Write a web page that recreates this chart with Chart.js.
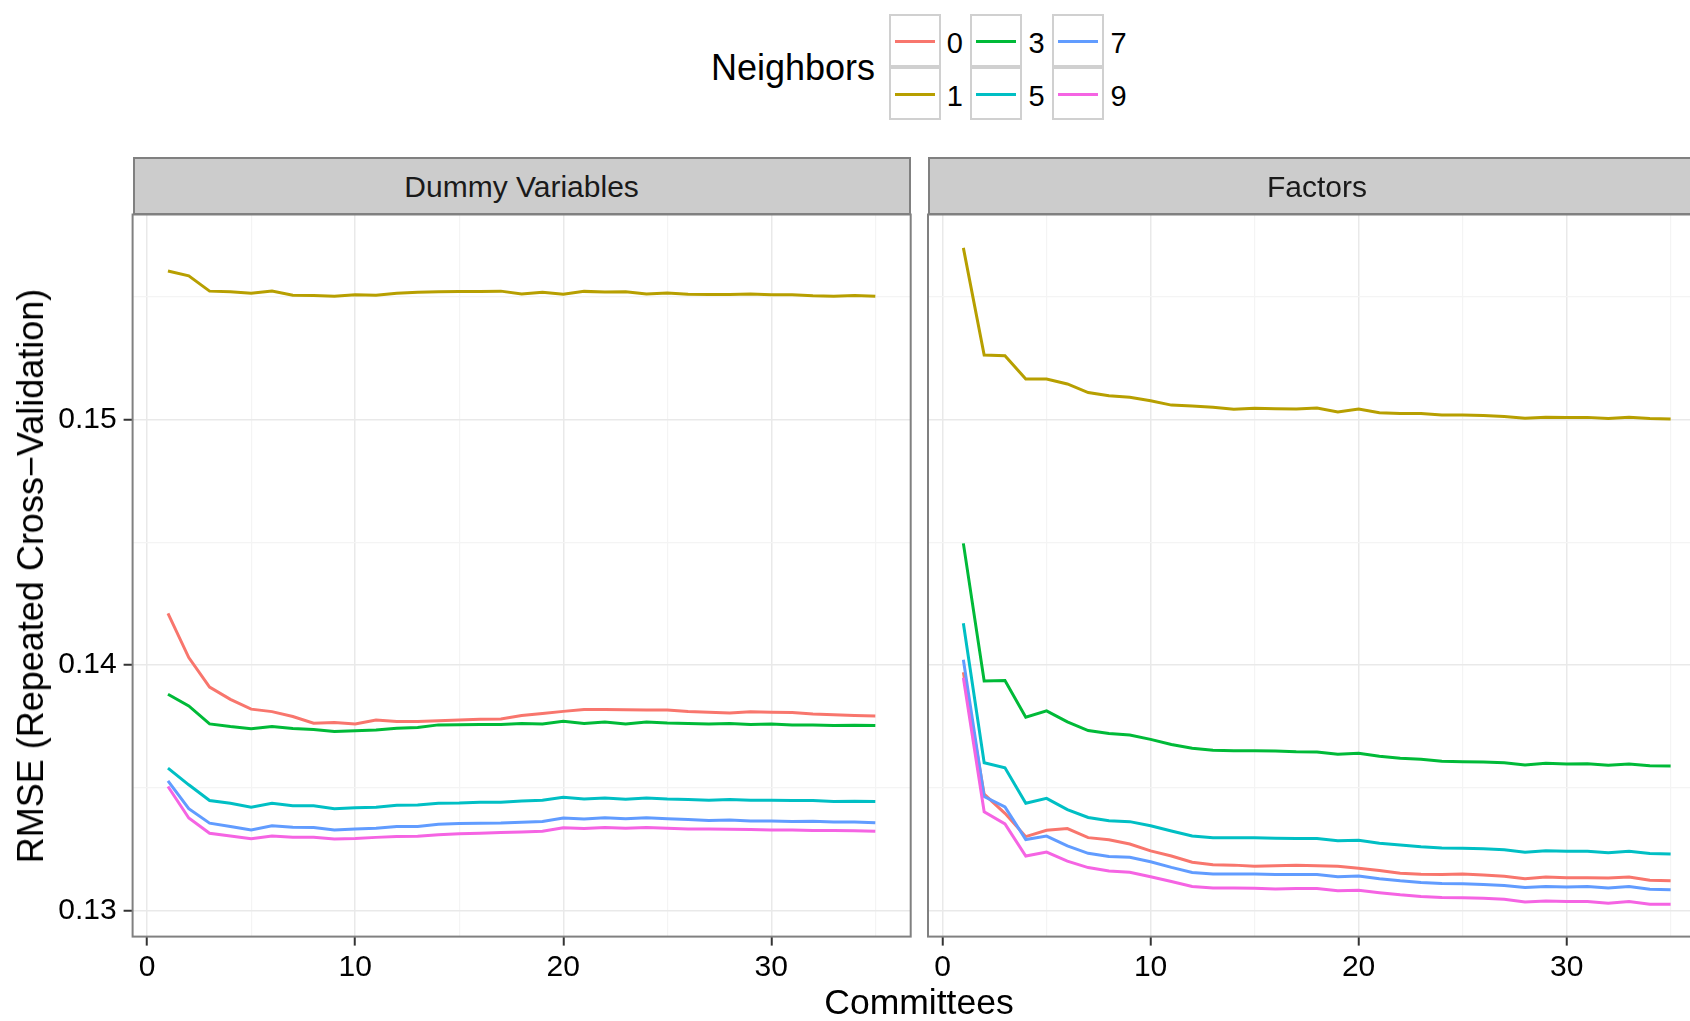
<!DOCTYPE html>
<html>
<head>
<meta charset="utf-8">
<script src="https://cdn.jsdelivr.net/npm/chart.js@4"></script>
<style>
  body { margin: 0; width: 1690px; height: 1021px; overflow: hidden; position: relative; background: #fff;
         font-family: "Liberation Sans", Arial, sans-serif; color: #000; }
  canvas { position: absolute; }
  .txt { position: absolute; white-space: nowrap; line-height: 1; }
  .strip { position: absolute; box-sizing: border-box; background: #cccccc; border: 2px solid #808080; }
  .key { position: absolute; box-sizing: border-box; width: 52px; height: 53px; border: 2px solid #d0d0d0; background: #fff; }
  .key span { position: absolute; left: 4px; right: 4px; top: 24px; height: 3px; }
</style>
</head>
<body>
<canvas id="left" width="920" height="821" style="left:0;top:200px"></canvas>
<canvas id="right" width="800" height="821" style="left:920px;top:200px"></canvas>

<div class="strip" style="left:132.6px;top:157.4px;width:778.1px;height:58px"></div>
<div class="strip" style="left:928px;top:157.4px;width:778px;height:58px"></div>
<div class="txt" style="left:521.6px;top:186.5px;font-size:30px;color:#1a1a1a;transform:translate(-50%,-50%)">Dummy Variables</div>
<div class="txt" style="left:1317px;top:186.5px;font-size:30px;color:#1a1a1a;transform:translate(-50%,-50%)">Factors</div>

<div class="txt" style="left:919px;top:1003px;font-size:35.5px;transform:translate(-50%,-50%)">Committees</div>
<div class="txt" style="left:30.6px;top:575.5px;font-size:36px;transform:translate(-50%,-50%) rotate(-90deg)">RMSE (Repeated Cross−Validation)</div>
<div class="txt" style="left:711px;top:67.5px;font-size:36px;transform:translateY(-50%)">Neighbors</div>
<div id="legend"></div>

<script>
// x values (number of committees) and neighbor groups
const committees = [1, 2, 3, 4, 5, 6, 7, 8, 9, 10, 11, 12, 13, 14, 15, 16, 17, 18, 19, 20,
  21, 22, 23, 24, 25, 26, 27, 28, 29, 30, 31, 32, 33, 34, 35];
const neighbors = ['0', '1', '3', '5', '7', '9'];
const colors = ['#F8766D', '#B79F00', '#00BA38', '#00BFC4', '#619CFF', '#F564E3'];
const xTicks = [0, 5, 10, 15, 20, 25, 30, 35];
const yTicks = [0.13, 0.135, 0.14, 0.145, 0.15, 0.155];

// Dummy Variables panel
const dummy0 = [0.1421, 0.1403, 0.1391, 0.1386, 0.1382, 0.1381, 0.1379, 0.13763, 0.13766, 0.1376,
  0.13776, 0.1377, 0.1377, 0.13773, 0.13776, 0.13779, 0.1378, 0.13794, 0.13802, 0.13811,
  0.13819, 0.13819, 0.13818, 0.13817, 0.13817, 0.1381, 0.13807, 0.13804, 0.13809, 0.13807,
  0.13806, 0.138, 0.13797, 0.13794, 0.13792];
const dummy1 = [0.15604, 0.15584, 0.15522, 0.15519, 0.15513, 0.15522, 0.15505, 0.15504, 0.15501, 0.15507,
  0.15505, 0.15513, 0.15517, 0.15519, 0.15521, 0.15521, 0.15522, 0.1551, 0.15517, 0.15509,
  0.15521, 0.15518, 0.15519, 0.1551, 0.15514, 0.15509, 0.15508, 0.15508, 0.1551, 0.15507,
  0.15507, 0.15503, 0.15501, 0.15504, 0.15501];
const dummy3 = [0.13881, 0.13833, 0.1376, 0.13749, 0.1374, 0.13749, 0.13741, 0.13737, 0.13729, 0.13732,
  0.13735, 0.13742, 0.13745, 0.13756, 0.13757, 0.13758, 0.13758, 0.13762, 0.1376, 0.13771,
  0.13762, 0.13768, 0.1376, 0.13768, 0.13764, 0.13762, 0.1376, 0.13762, 0.13758, 0.1376,
  0.13756, 0.13756, 0.13753, 0.13754, 0.13753];
const dummy5 = [0.1358, 0.13512, 0.13448, 0.13437, 0.13421, 0.13437, 0.13427, 0.13427, 0.13415, 0.13419,
  0.13421, 0.13429, 0.1343, 0.13437, 0.13438, 0.13441, 0.13441, 0.13446, 0.13449, 0.13461,
  0.13454, 0.13458, 0.13453, 0.13458, 0.13454, 0.13452, 0.13449, 0.13452, 0.13449, 0.13449,
  0.13448, 0.13448, 0.13444, 0.13445, 0.13444];
const dummy7 = [0.13528, 0.13415, 0.13356, 0.13342, 0.13328, 0.13345, 0.13339, 0.13338, 0.13328, 0.13332,
  0.13335, 0.13342, 0.13342, 0.13351, 0.13354, 0.13356, 0.13357, 0.1336, 0.13363, 0.13377,
  0.13373, 0.13378, 0.13374, 0.13378, 0.13374, 0.13371, 0.13367, 0.13369, 0.13365, 0.13365,
  0.13363, 0.13364, 0.13361, 0.13361, 0.13358];
const dummy9 = [0.13505, 0.13377, 0.13315, 0.13304, 0.13292, 0.13304, 0.13299, 0.13298, 0.13291, 0.13293,
  0.13298, 0.13302, 0.13303, 0.13309, 0.13313, 0.13315, 0.13318, 0.1332, 0.13323, 0.13337,
  0.13334, 0.13338, 0.13335, 0.13338, 0.13335, 0.13332, 0.13332, 0.13331, 0.1333, 0.13328,
  0.13328, 0.13326, 0.13326, 0.13325, 0.13323];

// Factors panel
const factor0 = [0.1397, 0.13474, 0.13396, 0.13301, 0.13327, 0.13334, 0.13297, 0.13288, 0.13271, 0.13243,
  0.13222, 0.13197, 0.13187, 0.13185, 0.1318, 0.13182, 0.13185, 0.13182, 0.1318, 0.13172,
  0.13163, 0.13152, 0.13148, 0.13147, 0.13149, 0.13145, 0.1314, 0.1313, 0.13137, 0.13134,
  0.13134, 0.13133, 0.13137, 0.13123, 0.13121];
const factor1 = [0.15698, 0.15262, 0.15259, 0.15164, 0.15164, 0.15144, 0.15109, 0.15096, 0.1509, 0.15076,
  0.15058, 0.15054, 0.15049, 0.15041, 0.15045, 0.15043, 0.15042, 0.15046, 0.1503, 0.15042,
  0.15027, 0.15024, 0.15024, 0.15018, 0.15018, 0.15016, 0.15012, 0.15004, 0.15009, 0.15008,
  0.15008, 0.15003, 0.15008, 0.15003, 0.15001];
const factor3 = [0.14495, 0.13935, 0.13937, 0.13787, 0.13813, 0.13768, 0.13733, 0.13721, 0.13715, 0.13697,
  0.13676, 0.13661, 0.13653, 0.13651, 0.13651, 0.1365, 0.13647, 0.13646, 0.13636, 0.1364,
  0.13628, 0.1362, 0.13616, 0.13608, 0.13606, 0.13605, 0.13602, 0.13593, 0.136, 0.13597,
  0.13598, 0.13592, 0.13597, 0.1359, 0.13589];
const factor5 = [0.1417, 0.13602, 0.13581, 0.13437, 0.13457, 0.13411, 0.13379, 0.13366, 0.13362, 0.13345,
  0.13324, 0.13304, 0.13296, 0.13296, 0.13296, 0.13294, 0.13293, 0.13293, 0.13284, 0.13286,
  0.13274, 0.13267, 0.1326, 0.13255, 0.13254, 0.13252, 0.13248, 0.13237, 0.13244, 0.13241,
  0.13241, 0.13235, 0.13241, 0.13232, 0.1323];
const factor7 = [0.14021, 0.13464, 0.13422, 0.13289, 0.13303, 0.13263, 0.13233, 0.1322, 0.13217, 0.13199,
  0.13176, 0.13155, 0.13149, 0.13149, 0.13149, 0.13147, 0.13147, 0.13147, 0.13138, 0.13141,
  0.1313, 0.13121, 0.13114, 0.1311, 0.13109, 0.13106, 0.13102, 0.13094, 0.13098, 0.13096,
  0.13098, 0.13092, 0.13098, 0.13087, 0.13085];
const factor9 = [0.13948, 0.13402, 0.13353, 0.13222, 0.13238, 0.13201, 0.13175, 0.13161, 0.13156, 0.13138,
  0.13118, 0.13098, 0.13092, 0.13092, 0.13091, 0.13088, 0.1309, 0.1309, 0.13081, 0.13083,
  0.13073, 0.13064, 0.13057, 0.13053, 0.13052, 0.1305, 0.13046, 0.13035, 0.13039, 0.13037,
  0.13037, 0.1303, 0.13037, 0.13026, 0.13026];

const dummySeries = [dummy0, dummy1, dummy3, dummy5, dummy7, dummy9];
const factorSeries = [factor0, factor1, factor3, factor5, factor7, factor9];

const isMajor = (v, step) => Math.abs(v / step - Math.round(v / step)) < 1e-6;

const panelBorder = {
  id: 'panelBorder',
  afterDraw(chart) {
    const { ctx, chartArea: a } = chart;
    ctx.save();
    ctx.strokeStyle = '#808080';
    ctx.lineWidth = 2;
    ctx.strokeRect(a.left, a.top, a.right - a.left, a.bottom - a.top);
    ctx.restore();
  }
};

function makePanel(id, series, withYLabels, padRight, yWidth) {
  const datasets = series.map((arr, k) => ({
    label: neighbors[k],
    data: committees.map((c, i) => ({ x: c, y: arr[i] })),
    borderColor: colors[k],
    backgroundColor: colors[k],
    borderWidth: 3,
    pointRadius: 0,
    tension: 0,
    order: series.length - k
  }));

  return new Chart(document.getElementById(id), {
    type: 'line',
    data: { datasets },
    plugins: [panelBorder],
    options: {
      responsive: false,
      animation: false,
      layout: { padding: { top: 14.5, right: padRight, left: 0, bottom: 0 } },
      plugins: { legend: { display: false }, tooltip: { enabled: false } },
      scales: {
        x: {
          type: 'linear',
          min: -0.7,
          max: 36.7,
          afterBuildTicks: s => { s.ticks = xTicks.map(v => ({ value: v })); },
          afterFit: s => { s.height = 84.4; s.paddingLeft = 0; s.paddingRight = 0; },
          border: { display: false },
          grid: {
            color: c => isMajor(c.tick.value, 10) ? '#e9e9e9' : '#f4f4f4',
            lineWidth: c => isMajor(c.tick.value, 10) ? 1.5 : 1.2,
            tickColor: c => isMajor(c.tick.value, 10) ? '#333333' : 'rgba(0,0,0,0)',
            tickWidth: 2,
            tickLength: 9
          },
          ticks: {
            autoSkip: false,
            maxRotation: 0,
            padding: 4,
            color: '#000',
            font: { family: '"Liberation Sans", Arial, sans-serif', size: 30 },
            callback: v => isMajor(v, 10) ? String(v) : ''
          }
        },
        y: {
          type: 'linear',
          min: 0.12894,
          max: 0.15834,
          afterBuildTicks: s => { s.ticks = yTicks.map(v => ({ value: v })); },
          afterFit: s => { s.width = yWidth; s.paddingTop = 0; s.paddingBottom = 0; },
          border: { display: false },
          grid: {
            color: c => isMajor(c.tick.value, 0.01) ? '#e9e9e9' : '#f4f4f4',
            lineWidth: c => isMajor(c.tick.value, 0.01) ? 1.5 : 1.2,
            tickColor: c => isMajor(c.tick.value, 0.01) ? '#333333' : 'rgba(0,0,0,0)',
            tickWidth: 2,
            tickLength: 9,
            drawTicks: withYLabels
          },
          ticks: {
            display: withYLabels,
            autoSkip: false,
            padding: 7,
            color: '#000',
            font: { family: '"Liberation Sans", Arial, sans-serif', size: 30 },
            callback: v => isMajor(v, 0.01) ? v.toFixed(2) : ''
          }
        }
      }
    }
  });
}

makePanel('left', dummySeries, true, 9.3, 132.6);
makePanel('right', factorSeries, false, 14, 8);

// legend: 3 columns x 2 rows, filled column by column
const legend = document.getElementById('legend');
const colLeft = [888.7, 970.4, 1052.4];
const rowTop = [14, 66.5];
neighbors.forEach((n, k) => {
  const col = Math.floor(k / 2), row = k % 2;
  const key = document.createElement('div');
  key.className = 'key';
  key.style.left = colLeft[col] + 'px';
  key.style.top = rowTop[row] + 'px';
  const line = document.createElement('span');
  line.style.background = colors[k];
  key.appendChild(line);
  legend.appendChild(key);

  const lab = document.createElement('div');
  lab.className = 'txt';
  lab.style.fontSize = '29px';
  lab.style.left = (colLeft[col] + 58) + 'px';
  lab.style.top = (rowTop[row] + 29) + 'px';
  lab.style.transform = 'translateY(-50%)';
  lab.textContent = n;
  legend.appendChild(lab);
});
</script>
</body>
</html>
